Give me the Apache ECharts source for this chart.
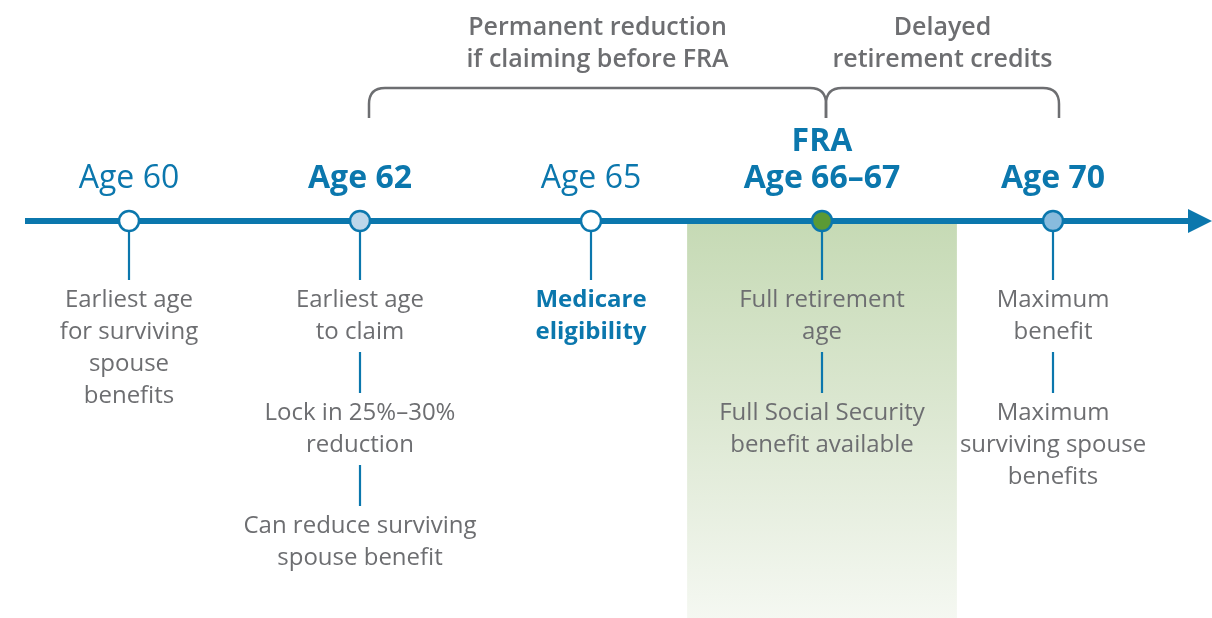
<!DOCTYPE html>
<html><head><meta charset="utf-8">
<script src="https://cdn.jsdelivr.net/npm/echarts@6/dist/echarts.min.js"></script>
<style>html,body{margin:0;padding:0;background:#fff}#c{width:1212px;height:618px}</style>
</head><body><div id="c"></div>
<script>
// ---- data ----
const stages = ['Age 60', 'Age 62', 'Age 65', 'Age 66–67', 'Age 70'];
const stageCaptions = ['', '', '', 'FRA', ''];
const stageEmphasis = [false, true, false, true, true];
const stageNotes = [
  ['Earliest age\nfor surviving\nspouse\nbenefits'],
  ['Earliest age\nto claim', 'Lock in 25%–30%\nreduction', 'Can reduce surviving\nspouse benefit'],
  ['Medicare\neligibility'],
  ['Full retirement\nage', 'Full Social Security\nbenefit available'],
  ['Maximum\nbenefit', 'Maximum\nsurviving spouse\nbenefits']
];
const noteHighlighted = [false, false, true, false, false];
const bracketLabels = ['Permanent reduction\nif claiming before FRA', 'Delayed\nretirement credits'];
const bracketFrom = ['Age 62', 'Age 66–67'];
const bracketTo = ['Age 66–67', 'Age 70'];
const highlightStage = 'Age 66–67';

// ---- styles ----
const BLUE = '#0b77ad';
const GRAY = '#6d6e71';
const FONT = '"Open Sans"';
const markerFill = ['#ffffff', '#bdd7ea', '#ffffff', '#5b9a35', '#88bbdd'];
const AXIS_Y = 221;

const chart = echarts.init(document.getElementById('c'), null, {renderer: 'canvas'});

function stageItem(params, api) {
  const i = api.value(0);
  const x = api.coord([i, 0])[0];
  const children = [];
  const notes = stageNotes[i];
  notes.forEach((txt, k) => {
    const top = k === 0 ? AXIS_Y + 11 : 299 + 113 * k - 60;
    const bot = 299 + 113 * k - 19;
    children.push({type: 'line', shape: {x1: x, y1: top, x2: x, y2: bot},
      style: {stroke: BLUE, lineWidth: 2.2}});
    children.push({type: 'text', style: {
      text: txt, x: x, y: 299 + 113 * k - 15, align: 'center', verticalAlign: 'top',
      fontFamily: FONT, fontSize: 24, lineHeight: 32,
      fontWeight: noteHighlighted[i] ? 'bold' : 'normal',
      fill: noteHighlighted[i] ? BLUE : GRAY}});
  });
  children.push({type: 'circle', shape: {cx: x, cy: AXIS_Y, r: 10},
    style: {fill: markerFill[i], stroke: BLUE, lineWidth: 2.5}});
  const label = (stageCaptions[i] ? stageCaptions[i] + '\n' : '') + stages[i];
  children.push({type: 'text', style: {
    text: label, x: x, y: 197, align: 'center', verticalAlign: 'bottom',
    fontFamily: FONT, fontSize: 32, lineHeight: 37,
    fontWeight: stageEmphasis[i] ? 'bold' : 'normal', fill: BLUE}});
  return {type: 'group', children: children};
}

function bandItem(params, api) {
  const x = api.coord([api.value(0), 0])[0];
  const half = api.size([1, 0])[0] * 0.584;
  return {type: 'rect', shape: {x: x - half, y: AXIS_Y + 3, width: half * 2, height: 618 - AXIS_Y},
    style: {fill: new echarts.graphic.LinearGradient(0, 0, 0, 1, [
      {offset: 0, color: '#c6dab5'}, {offset: 0.5, color: '#dde8d3'}, {offset: 1, color: '#f5f8f2'}])}};
}

function bracketItem(params, api) {
  const a = api.coord([api.value(0), 0])[0];
  const b = api.coord([api.value(1), 0])[0];
  const j = params.dataIndex;
  const x1 = a + (j === 0 ? 9 : 4);
  const x2 = b + (j === 0 ? 4 : 6);
  const yT = 88, yB = 118, r = 16;
  const path = `M${x1} ${yB} L${x1} ${yT + r} Q${x1} ${yT} ${x1 + r} ${yT} L${x2 - r} ${yT} Q${x2} ${yT} ${x2} ${yT + r} L${x2} ${yB}`;
  return {type: 'group', children: [
    {type: 'path', shape: {pathData: path}, style: {fill: 'none', stroke: GRAY, lineWidth: 2.5}},
    {type: 'text', style: {text: bracketLabels[j], x: (x1 + x2) / 2, y: 12, align: 'center', verticalAlign: 'top',
      fontFamily: FONT, fontSize: 25, lineHeight: 32, fontWeight: 600, fill: GRAY}}
  ]};
}

chart.setOption({
  animation: false,
  grid: {left: 13.5, right: 43.5, top: 0, bottom: 0},
  xAxis: {type: 'category', data: stages, show: false},
  yAxis: {type: 'value', min: 0, max: 1, show: false},
  graphic: [
    {type: 'line', z: 3, shape: {x1: 25, y1: AXIS_Y, x2: 1192, y2: AXIS_Y}, style: {stroke: BLUE, lineWidth: 6}},
    {type: 'polygon', z: 3, shape: {points: [[1188, AXIS_Y - 12], [1212, AXIS_Y], [1188, AXIS_Y + 12]]}, style: {fill: BLUE}}
  ],
  series: [
    {type: 'custom', z: 1, renderItem: bandItem, data: [[stages.indexOf(highlightStage), 0]]},
    {type: 'custom', z: 5, renderItem: bracketItem,
      data: bracketFrom.map((f, k) => [stages.indexOf(f), stages.indexOf(bracketTo[k])])},
    {type: 'custom', z: 6, renderItem: stageItem, data: stages.map((s, i) => [i, 0])}
  ]
});
</script></body></html>
